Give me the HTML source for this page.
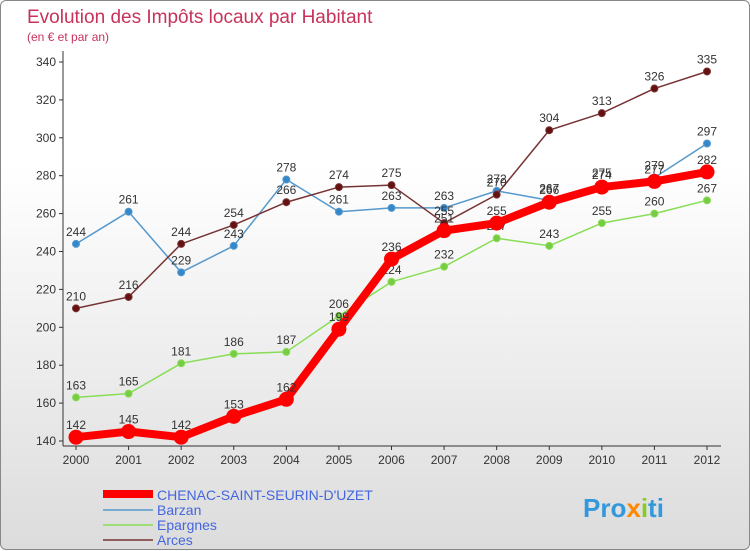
<!DOCTYPE html>
<html><head><meta charset="utf-8"><style>
body{margin:0;width:750px;height:550px;overflow:hidden;font-family:"Liberation Sans",sans-serif;}
#wrap{position:absolute;left:0;top:0;width:748px;height:548px;border:1px solid #888;border-radius:6px;background:linear-gradient(#fff,#fff 30%,#dcdcdc);}
</style></head><body>
<div id="wrap">
<svg id="svg" width="750" height="550" xmlns="http://www.w3.org/2000/svg" style="position:absolute;left:0;top:0">
<text x="26" y="22" font-size="19" fill="#c8325a">Evolution des Impôts locaux par Habitant</text>
<text x="26" y="40" font-size="12" fill="#c8325a">(en € et par an)</text>
<g id="grid"></g><g id="series"></g>
<g>
<line x1="102" y1="493" x2="152" y2="493" stroke="#f00" stroke-width="8"/>
<text x="156" y="499" font-size="14" fill="#4466dd">CHENAC-SAINT-SEURIN-D'UZET</text>
<line x1="102" y1="509" x2="152" y2="509" stroke="#5599cc" stroke-width="1.5"/>
<text x="156" y="514" font-size="14" fill="#4466dd">Barzan</text>
<line x1="102" y1="524" x2="152" y2="524" stroke="#88dd55" stroke-width="1.5"/>
<text x="156" y="529" font-size="14" fill="#4466dd">Epargnes</text>
<line x1="102" y1="539" x2="152" y2="539" stroke="#773333" stroke-width="1.5"/>
<text x="156" y="544" font-size="14" fill="#4466dd">Arces</text>
</g>
<text x="582" y="516" font-size="26" font-weight="bold" fill="#3399dd">Pro<tspan fill="#ff8800">x</tspan><tspan fill="#88cc22">i</tspan>ti</text>
</svg></div>
<script>
const years=[2000,2001,2002,2003,2004,2005,2006,2007,2008,2009,2010,2011,2012];
const chenac=[142,145,142,153,162,199,236,251,255,266,274,277,282];
const barzan=[244,261,229,243,278,261,263,263,272,267,275,279,297];
const epargnes=[163,165,181,186,187,206,224,232,247,243,255,260,267];
const arces=[210,216,244,254,266,274,275,255,270,304,313,326,335];
const yTicks=[140,160,180,200,220,240,260,280,300,320,340];
const NS="http://www.w3.org/2000/svg";
const X=i=>75+i*(706-75)/(years.length-1);
const Y=v=>440-(v-140)*(440-61)/200;
function mk(t,a,p){const e=document.createElementNS(NS,t);for(const k in a)e.setAttribute(k,a[k]);p.appendChild(e);return e;}
const g=document.getElementById('grid');
const ax=mk('line',{x1:62,y1:50,x2:62,y2:445,stroke:'#333'},g);

const bx=mk('line',{x1:62,y1:445,x2:720,y2:445,stroke:'#333'},g);

yTicks.forEach(v=>{mk('line',{x1:58,y1:Y(v),x2:62,y2:Y(v),stroke:'#333'},g);
const t=mk('text',{x:55,y:Y(v)+4,'font-size':12,'text-anchor':'end',fill:'#333'},g);t.textContent=v;
});
years.forEach((y,i)=>{mk('line',{x1:X(i),y1:445,x2:X(i),y2:449,stroke:'#333'},g);
const t=mk('text',{x:X(i),y:463,'font-size':12,'text-anchor':'middle',fill:'#333'},g);t.textContent=y;
});
const s=document.getElementById('series');
function draw(data,name,color,w,r,dot){
 const p=mk('polyline',{points:data.map((v,i)=>X(i)+','+Y(v)).join(' '),fill:'none',stroke:color,'stroke-width':w,'stroke-linejoin':'round'},s);
 
 data.forEach((v,i)=>{const c=mk('circle',{cx:X(i),cy:Y(v),r:r,fill:dot,stroke:color,'stroke-width':1},s);
 
 const t=mk('text',{x:X(i),y:Y(v)-8,'font-size':12,'text-anchor':'middle',fill:'#333'},s);t.textContent=v;
 });
}
draw(epargnes,'epargnes','#88dd55',1.5,3.5,'#77cc44');
draw(barzan,'barzan','#5599cc',1.5,3.5,'#3388cc');
draw(arces,'arces','#773333',1.5,3.5,'#661111');
draw(chenac,'chenac','#f00',8,7,'#f00');
</script>
</body></html>
